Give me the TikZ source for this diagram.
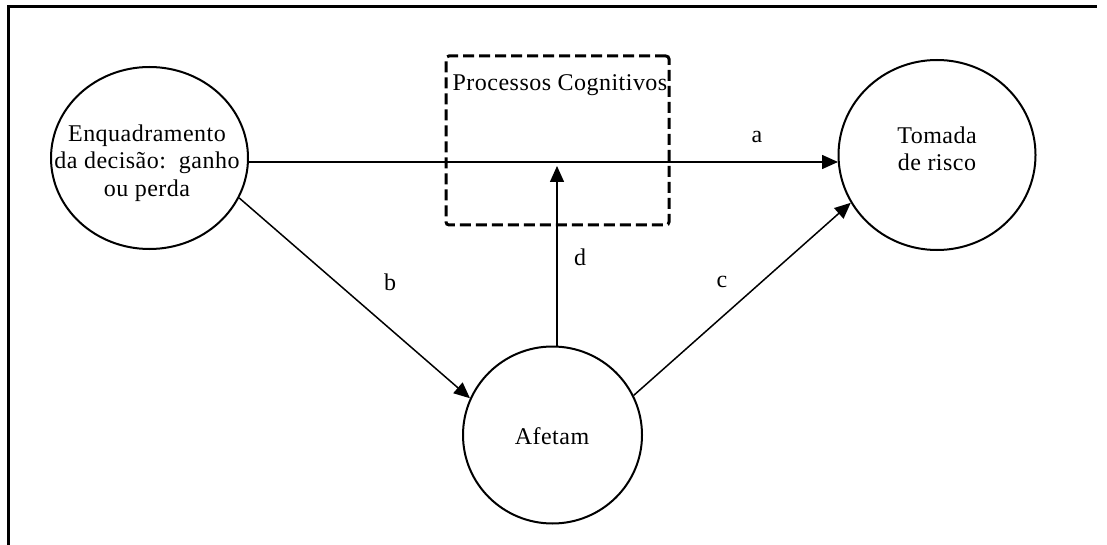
\documentclass[tikz,border=0pt]{standalone}
\usepackage{fontspec}
\setmainfont{Liberation Serif}[LetterSpace=2]
\usetikzlibrary{shapes.geometric,arrows.meta}
\begin{document}
\begin{tikzpicture}[x=1pt,y=-1pt,
  every node/.style={font=\fontsize{24}{27.5}\selectfont},
  bubble/.style={ellipse,draw,line width=2pt,inner sep=0pt},
  conn/.style={line width=1.5pt},
  arr/.style={conn,-{Triangle[length=16pt,width=14pt]}},
  lab/.style={inner sep=0pt,align=center}]
\useasboundingbox (0,0) rectangle (1107,545);
\draw[line width=3pt] (8,545) -- (8,7) -- (1097,7);
% dashed box
\node[draw,line width=3pt,dash pattern=on 11pt off 5pt,rounded corners=3pt,
  minimum width=223pt,minimum height=169pt,inner sep=0pt] (P) at (557.5,140.5) {};
\node[lab] (Ptext) at (560,85) {Processos Cognitivos};
% circles
\node[bubble,minimum width=197pt,minimum height=182pt] (L) at (149.5,158) {};
\node[lab] (Ltext) at (147,163) {Enquadramento\\da decisão:\ \ ganho\\ou perda};
\node[bubble,minimum width=197pt,minimum height=190pt] (R) at (937,155) {};
\node[lab] (Rtext) at (937,149) {Tomada\\de risco};
\node[bubble,minimum width=179pt,minimum height=177pt] (A) at (552.5,435) {};
\node[lab] (Atext) at (552,436) {Afetam};
% connectors
\coordinate (aS) at (248,162);
\coordinate (aE) at (838,162);
\draw[arr] (aS) -- (aE);
\draw[arr] (L.-24) -- (A.156);
\draw[arr] (A.26) -- (R.209);
\coordinate (dS) at (557,346);
\coordinate (dE) at (557,166);
\draw[arr] (dS) -- (dE);
% labels
\node[lab] (la) at (757,137) {a};
\node[lab] (lb) at (390,282) {b};
\node[lab] (lc) at (722,282) {c};
\node[lab] (ld) at (580,257) {d};
\end{tikzpicture}
\end{document}
